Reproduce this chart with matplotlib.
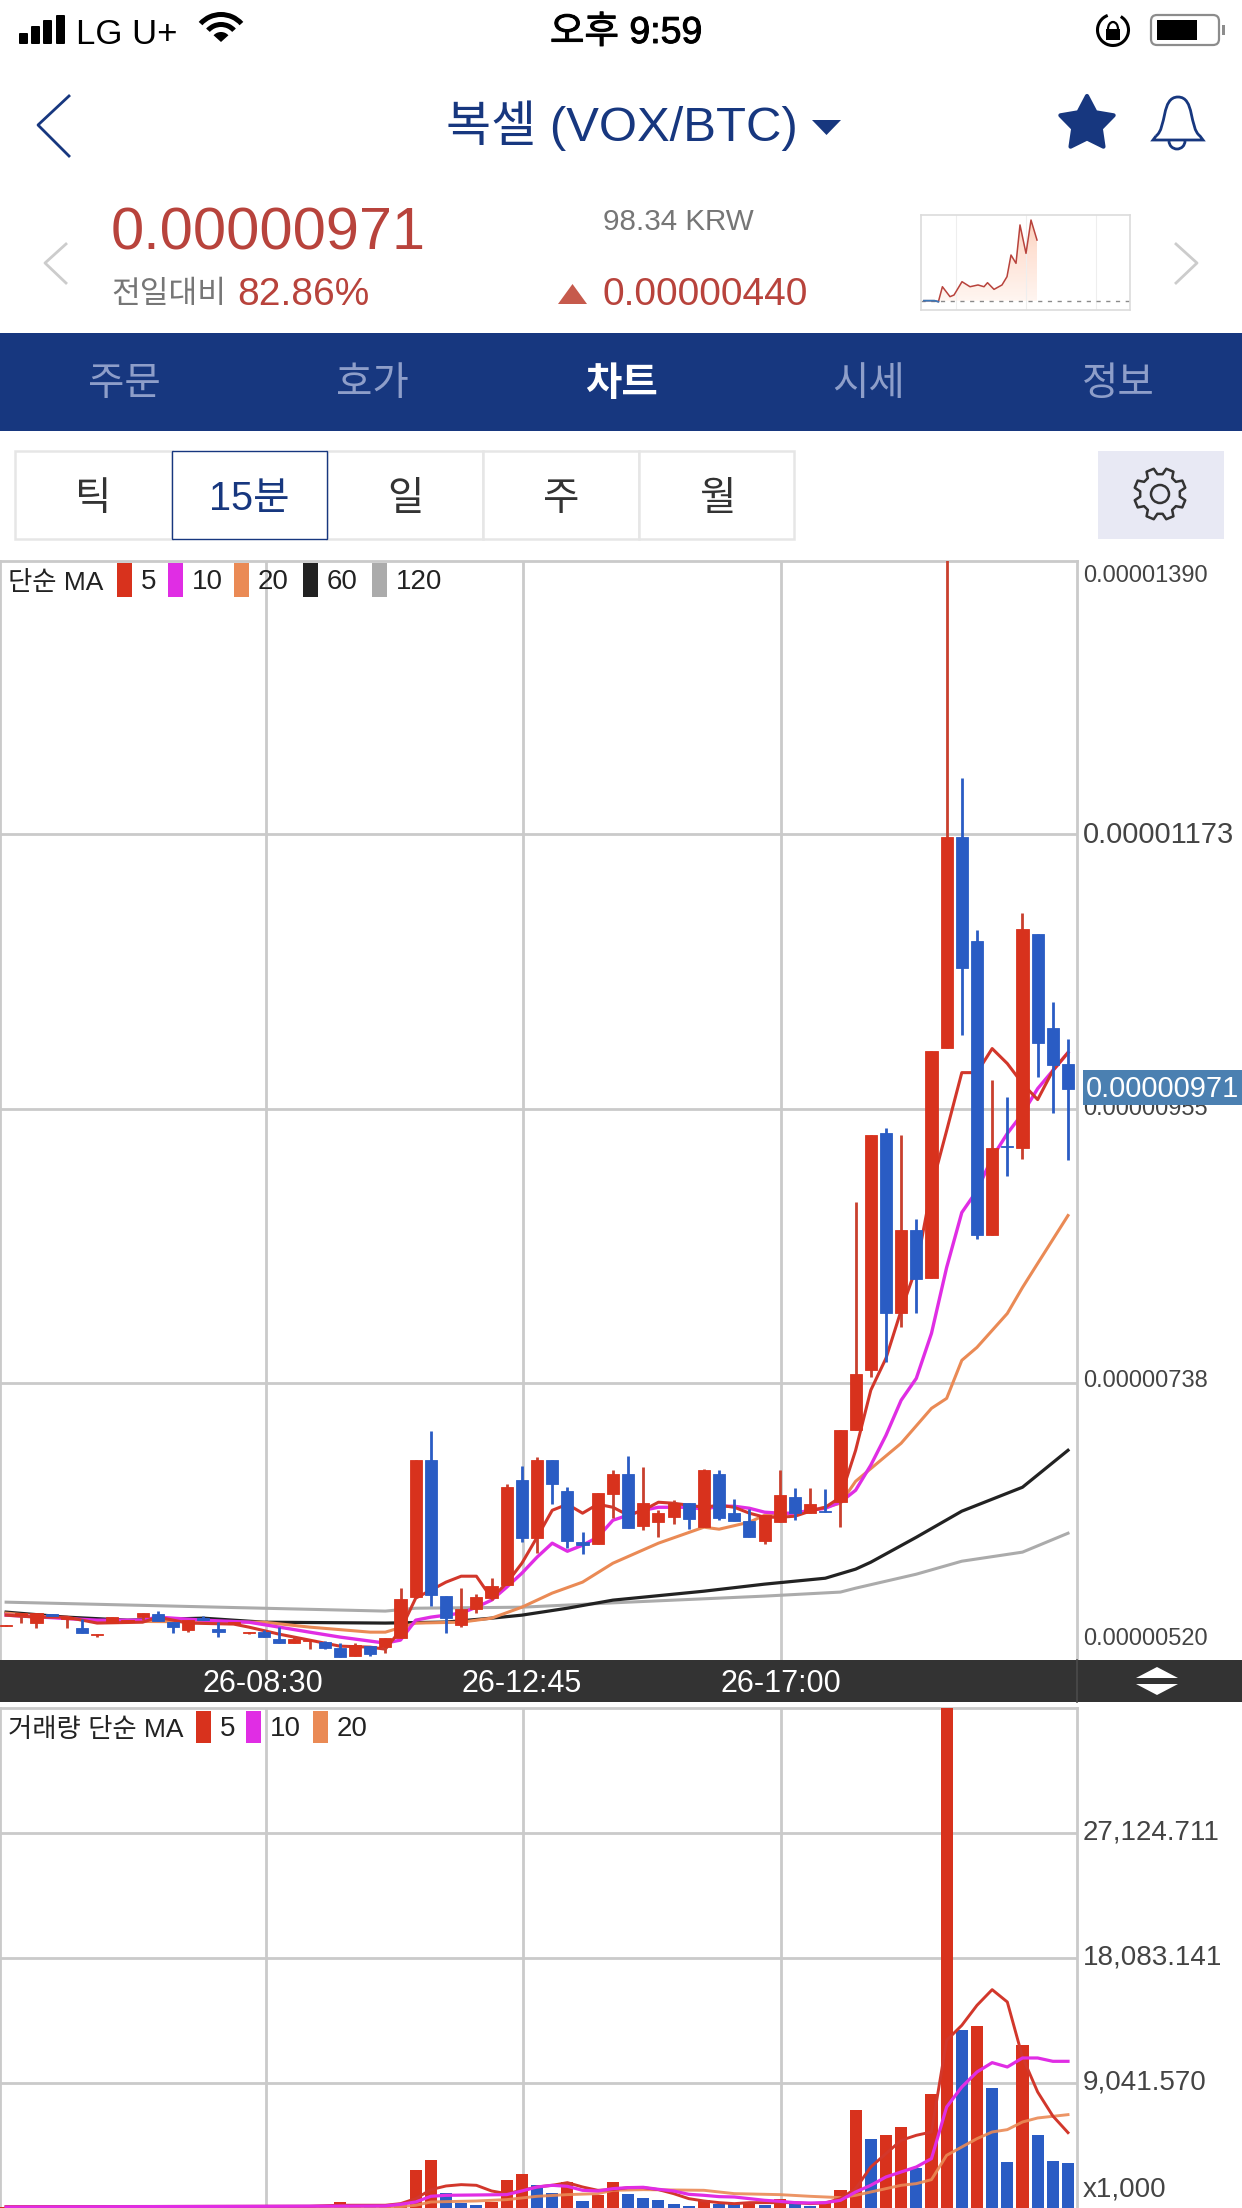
import numpy as np
import matplotlib
matplotlib.use('Agg')
import matplotlib.pyplot as plt
import matplotlib.patheffects as pe
from matplotlib.patches import Rectangle, Polygon, Wedge, Circle, Arc, FancyBboxPatch, PathPatch
from matplotlib.path import Path
from matplotlib.transforms import blended_transform_factory

plt.rcParams['font.family'] = ['Liberation Sans', 'Noto Sans CJK KR', 'DejaVu Sans']

W, H = 1242, 2208

# candles, price in satoshi (1e-8 BTC), one per 15 minutes
candle_open = [545.2, 553.5, 547.2, 554.3, 550.3, 543.2, 538.0, 547.2, 547.9, 551.9,
               554.3, 547.9, 541.6, 551.1, 542.4, 546.4, 539.2, 540.0, 534.5, 531.3,
               532.9, 532.1, 527.3, 521.0, 528.9, 528.1, 535.3, 567.8, 676.4, 568.6,
               545.6, 558.2, 567.0, 577.3, 660.5, 614.6, 676.4, 651.8, 611.4, 609.8,
               649.4, 665.3, 624.1, 627.3, 631.2, 642.3, 623.3, 665.3, 634.4, 628.0,
               612.2, 627.3, 647.0, 634.4, 636.0, 643.1, 700.2, 747.8, 935.7, 792.9,
               858.8, 820.7, 1003.4, 1171.1, 1088.7, 854.8, 925.4, 923.8, 1094.2, 1019.7,
               991.2]
candle_close = [545.6, 555.1, 555.1, 552.7, 551.9, 539.2, 538.8, 551.9, 549.5, 555.1,
                548.7, 544.0, 549.5, 549.5, 540.0, 547.9, 540.0, 536.1, 531.3, 534.5,
                533.7, 527.3, 520.2, 529.7, 522.6, 535.3, 566.2, 676.4, 569.4, 551.1,
                558.2, 567.8, 576.5, 655.0, 614.6, 676.4, 657.4, 612.2, 609.0, 650.2,
                665.3, 622.5, 642.3, 634.4, 642.3, 629.6, 668.5, 630.4, 628.0, 615.4,
                632.8, 648.6, 634.4, 641.5, 635.2, 700.2, 744.6, 934.9, 792.9, 858.8,
                819.9, 1001.5, 1171.1, 1067.3, 854.8, 923.8, 924.6, 1098.2, 1007.8, 990.4,
                971.0]
candle_high = [545.6, 555.1, 555.1, 554.3, 551.9, 550.3, 538.8, 551.9, 549.5, 555.1,
               556.7, 547.9, 549.5, 552.7, 547.9, 547.9, 540.0, 541.6, 544.0, 536.1,
               533.7, 532.9, 531.3, 531.3, 528.9, 535.3, 574.9, 676.4, 699.4, 568.6,
               574.9, 570.2, 582.9, 657.4, 671.6, 678.8, 676.4, 655.0, 619.3, 650.2,
               668.5, 679.6, 670.8, 636.8, 644.7, 642.3, 669.3, 668.5, 645.5, 637.6,
               632.8, 668.5, 654.2, 654.2, 653.4, 700.2, 881.0, 934.9, 940.4, 934.9,
               867.5, 1001.5, 1400.0, 1217.9, 1097.4, 978.5, 965.0, 1110.9, 1094.2, 1040.4,
               1011.0]
candle_low = [545.2, 547.2, 543.2, 552.7, 543.2, 539.2, 536.1, 547.2, 547.9, 549.5,
              548.7, 539.2, 540.0, 549.5, 536.1, 546.4, 538.4, 536.1, 531.3, 531.3,
              526.5, 526.5, 520.2, 521.0, 521.0, 523.4, 535.3, 567.8, 560.6, 539.2,
              544.0, 555.1, 565.4, 577.3, 611.4, 602.6, 641.5, 606.8, 601.8, 609.8,
              630.4, 622.5, 620.9, 615.4, 625.7, 621.7, 623.3, 628.8, 628.0, 615.4,
              609.8, 627.3, 628.8, 634.4, 635.2, 623.3, 700.2, 742.2, 754.1, 781.8,
              792.9, 820.7, 1003.4, 1014.1, 851.6, 854.8, 901.6, 915.8, 980.9, 952.3,
              915.0]

# moving averages, read at the candle index in *_idx
ma5_idx = [0, 2, 4, 6, 9, 10, 12, 15, 16, 18, 20, 22, 24] + list(range(25, 71))
ma5 = [553.5, 551.9, 551.9, 547.2, 547.9, 551.9, 547.2, 546.4, 544.0, 538.4, 533.7, 528.9, 528.1,
       526.5, 541.6, 567.0, 573.3, 579.7, 584.4, 584.4, 567.0, 578.9, 594.7, 615.3, 636.7, 641.5,
       634.4, 641.5, 639.1, 632.8, 636.7, 643.1, 642.3, 640.7, 639.1, 640.7, 639.1, 634.4, 631.2,
       631.2, 632.0, 636.0, 639.1, 647.0, 684.3, 732.0, 757.3, 795.3, 829.4, 892.8, 938.0, 984.0,
       984.0, 1003.1, 991.2, 975.3, 962.6, 985.6, 999.9]
ma10_idx = [0, 6, 9, 10, 13, 16, 18, 20, 22, 24] + list(range(25, 71))
ma10 = [553.5, 549.5, 549.5, 551.9, 549.5, 547.9, 544.0, 540.0, 536.1, 532.9,
        531.3, 533.7, 549.5, 551.9, 553.5, 555.1, 559.8, 565.4, 575.7, 586.8, 599.5, 610.6, 604.2,
        609.0, 615.3, 628.8, 632.8, 636.7, 639.1, 639.1, 639.1, 637.6, 639.9, 639.9, 638.3, 635.2,
        634.4, 634.4, 636.7, 638.3, 643.1, 652.6, 672.5, 696.2, 724.0, 741.4, 777.1, 829.4, 873.0,
        890.4, 916.6, 935.7, 951.5, 971.3, 985.6, 999.9]
ma20_idx = [0, 6, 17, 20, 24, 25, 27, 30, 32, 34, 36, 38, 40, 43, 46, 47, 49, 50, 52, 54, 55,
            56, 59, 61, 62, 63, 64, 66, 67, 68, 70]
ma20 = [555.1, 548.7, 547.9, 544.0, 540.0, 540.0, 547.2, 547.9, 551.1, 559.8, 571.0, 579.7, 594.7,
        610.6, 623.3, 621.7, 627.3, 632.8, 634.4, 639.1, 642.3, 659.7, 689.9, 717.6, 725.5, 755.7,
        766.0, 792.9, 813.5, 832.6, 870.6]
ma60_idx = [0, 4, 8, 13, 17, 25, 29, 32, 34, 37, 40, 46, 50, 54, 56, 57, 60, 63, 67, 70]
ma60 = [555.9, 551.9, 549.5, 551.1, 547.9, 547.2, 548.0, 551.1, 553.5, 559.0, 565.4, 572.5, 578.1,
        582.8, 590.0, 595.5, 615.3, 636.0, 655.0, 684.3]
ma120_idx = [0, 25, 27, 34, 41, 50, 55, 56, 60, 63, 67, 70]
ma120 = [563.8, 556.7, 559.0, 559.8, 563.8, 568.6, 571.8, 574.9, 586.0, 596.3, 603.5, 618.5]

price_ticks = [1390, 1173, 955, 738, 520]
current_price = 971

# volume, x1000 units on the axis
volume = [60, 70, 90, 50, 60, 70, 40, 80, 50, 60, 90, 60, 70, 50, 60, 40, 50, 70, 80, 70,
          140, 150, 434, 110, 70, 150, 390, 2727, 3450, 1085, 362, 195, 434, 2054, 2438, 1693, 1114,
          1881, 485, 919, 1881, 1041, 752, 557, 268, 123, 557, 318, 268, 434, 195, 680, 268, 123,
          434, 1280, 7067, 4969, 5309, 5859, 2922, 8224, 38000, 12853, 13193, 8658, 3327, 11768,
          5258, 3378, 3255]
volume_side = list('rrrbrbrrrrbbrbbrrbbrrrrrbr' 'rrrbbbrrrbbrbr' 'rbbbbbrbbrbrbbrrrbrrbrrbrbbrbbb')

vma5_idx = [0, 20, 22] + list(range(25, 71))
vma5 = [100, 130, 200, 200, 315, 677, 1328, 1593, 1690, 1642, 1232, 1039, 1280, 1521, 1642, 1834,
        1521, 1280, 1328, 1473, 1473, 1328, 1039, 677, 508, 388, 315, 388, 388, 388, 388, 315, 363,
        677, 1400, 2967, 3932, 4896, 5258, 5499, 12129, 13214, 14661, 15794, 14902, 10924, 8392,
        6656, 5451]
vma10_idx = [0, 25, 26, 27, 28, 29, 33] + list(range(34, 71))
vma10 = [70, 150, 267, 436, 846, 918, 967, 1232, 1521, 1642, 1569, 1280, 1232, 1400, 1473, 1497,
         1352, 1232, 991, 918, 822, 797, 677, 556, 484, 388, 363, 388, 556, 1159, 1642, 2244, 2606,
         2967, 3570, 7307, 8754, 9839, 10514, 10200, 10851, 10851, 10610, 10610]
vma20_idx = [0, 26, 27, 28, 31, 33, 35, 37, 39, 40, 42, 46, 48, 51, 53, 55, 56, 57, 59, 60, 61,
             62, 63, 64, 65, 66, 67, 68, 69, 70]
vma20 = [74, 100, 195, 436, 508, 605, 846, 967, 1039, 1280, 1328, 1280, 1039, 967, 846, 749, 918,
         1159, 1642, 1762, 2051, 3811, 4414, 5017, 5499, 5668, 6222, 6512, 6632, 6753]
volume_ticks = [27124.711, 18083.141, 9041.570]

# small sparkline in the header
mini_t = [3, 13.5, 17.4, 21.4, 29, 33, 41, 49, 57, 63, 66.5, 73, 81, 86, 90, 95, 99, 105, 110, 116]
mini_price = [531, 531, 523, 642, 563, 576, 682, 642, 656, 642, 674, 621, 656, 722, 894, 828, 1133, 907, 1172, 1013]
mini_prev_close = 531

tab_labels = ['주문', '호가', '차트', '시세', '정보']
period_labels = ['틱', '15분', '일', '주', '월']
time_labels = ['26-08:30', '26-12:45', '26-17:00']
time_idx = [17.1, 34.1, 51.1]

RED = '#d8321d'
BLUE = '#2a5cc4'
WICK_RED = '#c9402e'
LINE_RED = '#d2372b'
MAGENTA = '#e02de4'
ORANGE = '#ea8a55'
BLACK = '#222222'
GRAY = '#ababab'
GRID = '#cacaca'
NAVY = '#17377f'
PRICE_RED = '#b8433c'
TEXT_GRAY = '#767676'
LABEL = '#444444'


def px_rect(x0, y0, x1, y1):
    return [x0 / W, 1 - y1 / H, (x1 - x0) / W, (y1 - y0) / H]


def style_chart(ax):
    ax.set_xlim((0 - 6.1) / 15.17, (1077 - 6.1) / 15.17)
    ax.set_xticks(time_idx)
    ax.set_xticklabels([])
    ax.tick_params(length=0, labelleft=False, labelbottom=False)
    ax.grid(True, color=GRID, linewidth=2.0)
    ax.set_axisbelow(True)
    for side in ['left', 'right', 'top']:
        ax.spines[side].set_color(GRID)
        ax.spines[side].set_linewidth(2.0)
    ax.spines['bottom'].set_visible(False)


fig = plt.figure(figsize=(W / 100, H / 100), dpi=100, facecolor='white')

# chrome layer in pixel coordinates
ui = fig.add_axes([0, 0, 1, 1], zorder=5)
ui.set_xlim(0, W)
ui.set_ylim(H, 0)
ui.axis('off')
ui.patch.set_alpha(0)

# status bar
for bx, top in zip([19, 31, 43, 56], [33, 26, 20, 15]):
    ui.add_patch(FancyBboxPatch((bx + 1, top + 1), 7, 42 - top, boxstyle='round,pad=1', fc='black', ec='none'))
ui.text(76, 34, 'LG U+', fontsize=25, color='black', va='center')
for r, wd in [(30, 5), (20, 5)]:
    ui.add_patch(Wedge((221, 42), r, 222, 318, width=wd, fc='black', ec='none'))
ui.add_patch(Wedge((221, 42), 10, 222, 318, fc='black', ec='none'))
ui.text(626, 33, '오후 9:59', fontsize=27, color='black', ha='center', va='center',
        path_effects=[pe.withStroke(linewidth=0.7, foreground='black')])
ui.add_patch(Arc((1113, 30), 31, 31, theta1=-60, theta2=250, color='black', lw=2.2))
ui.add_patch(Rectangle((1106, 29), 14, 11, fc='black', ec='none'))
ui.add_patch(Arc((1113, 29), 10, 14, theta1=180, theta2=360, color='black', lw=1.6))
ui.add_patch(FancyBboxPatch((1153, 17), 64, 26, boxstyle='round,pad=2,rounding_size=6', fc='white', ec='#8c8c8c', lw=1.6))
ui.add_patch(Rectangle((1157, 20), 40, 20, fc='black', ec='none'))
ui.add_patch(Rectangle((1222, 25), 3, 10, fc='#8c8c8c', ec='none'))

# title row
ui.plot([69, 38, 69], [96, 125, 156], color=NAVY, lw=2.0)
ui.text(446, 126, '복셀 (VOX/BTC)', fontsize=35.3, color=NAVY, va='center', ha='left')
ui.add_patch(Polygon([(812, 120), (841, 120), (826.5, 135)], fc=NAVY, ec='none'))
star_ang = np.linspace(-np.pi / 2, 1.5 * np.pi, 10, endpoint=False)
star_rad = np.where(np.arange(10) % 2 == 0, 28, 14.5)
ui.add_patch(Polygon(np.c_[1087 + star_rad * np.cos(star_ang), 124 + star_rad * np.sin(star_ang)],
                     fc=NAVY, ec=NAVY, lw=3, joinstyle='round'))
bell = Path([(1156, 136), (1167, 128), (1161, 97), (1178, 97), (1195, 97), (1189, 128), (1200, 136), (1203, 140), (1153, 140), (1156, 136)],
            [Path.MOVETO, Path.CURVE4, Path.CURVE4, Path.CURVE4, Path.CURVE4, Path.CURVE4, Path.CURVE4, Path.LINETO, Path.LINETO, Path.LINETO])
ui.add_patch(PathPatch(bell, fc='none', ec=NAVY, lw=2.0))
ui.add_patch(Arc((1177, 141), 16, 16, theta1=0, theta2=180, color=NAVY, lw=2.0))

# price header
ui.text(111, 234, f'{current_price * 1e-8:.8f}', fontsize=42.8, color=PRICE_RED, va='center')
ui.text(603, 222, '98.34 KRW', fontsize=21.3, color=TEXT_GRAY, va='center')
ui.text(111, 295, '전일대비', fontsize=22.5, color=TEXT_GRAY, va='center')
ui.text(237, 295, '82.86%', fontsize=28, color=PRICE_RED, va='center')
ui.text(603, 295, '0.00000440', fontsize=28, color=PRICE_RED, va='center')
ui.add_patch(Polygon([(558, 304), (587, 304), (572.5, 284)], fc='#c65a4c', ec='none'))
ui.plot([66, 45, 66], [244, 263, 283], color='#cccccc', lw=2.0)
ui.plot([1176, 1197, 1176], [244, 263, 283], color='#cccccc', lw=2.0)

# sparkline
mini = fig.add_axes(px_rect(921, 215, 1130, 310), zorder=6)
mini.set_xlim(0, 209)
mini.set_ylim(457, 1212)
mini.set_xticks([35, 105, 175])
mini.set_yticks([])
mini.tick_params(length=0, labelbottom=False)
mini.grid(True, axis='x', color='#eeeeee', lw=0.8)
for s in mini.spines.values():
    s.set_color('#dcdcdc')
    s.set_linewidth(1.2)
grad = mini.imshow(np.linspace(0.2, 0.0, 64).reshape(-1, 1), extent=[0, 209, 531, 1212], origin='upper',
                   aspect='auto', cmap='Reds', vmin=0, vmax=1, zorder=1)
fill_poly = Polygon(list(zip(mini_t, mini_price)) + [(mini_t[-1], mini_prev_close), (mini_t[0], mini_prev_close)],
                    transform=mini.transData, fc='none', ec='none')
mini.add_patch(fill_poly)
grad.set_clip_path(fill_poly)
mini.axhline(mini_prev_close, color='#8a8a8a', lw=1, ls=(0, (3, 4)), zorder=2)
mini.plot(mini_t, mini_price, color=PRICE_RED, lw=1.1, zorder=3)
mini.plot(mini_t[:3], mini_price[:3], color='#3a78b8', lw=1.3, zorder=4)
mini.set_xlim(0, 209)
mini.set_ylim(457, 1212)

# tab bar
ui.add_patch(Rectangle((0, 333), W, 98, fc=NAVY, ec='none'))
for k, (tx, lab) in enumerate(zip([124, 372, 621, 869, 1118], tab_labels)):
    on = k == 2
    ui.text(tx, 384, lab, fontsize=28.5, ha='center', va='center', color='white' if on else '#8e9ec9',
            fontweight='bold' if on else 'normal')

# period buttons
edges = [15, 172, 327, 483, 639, 794]
for k, lab in enumerate(period_labels):
    if k != 1:
        ui.add_patch(Rectangle((edges[k], 451), edges[k + 1] - edges[k], 88, fc='white', ec='#e6e6e6', lw=1.8))
ui.add_patch(Rectangle((edges[1], 451), edges[2] - edges[1], 88, fc='white', ec=NAVY, lw=1.0, zorder=3))
for k, (tx, lab) in enumerate(zip([93, 249, 405, 561, 717], period_labels)):
    ui.text(tx, 499, lab, fontsize=28.5, ha='center', va='center', color=NAVY if k == 1 else '#333333', zorder=4)
ui.add_patch(Rectangle((1098, 451), 126, 88, fc='#e8e9f4', ec='none'))
ang = np.linspace(0, 2 * np.pi, 8, endpoint=False) + np.pi / 8
gear_pts = []
for a in ang:
    for da, rr in [(-0.26, 20), (-0.15, 26), (0.15, 26), (0.26, 20)]:
        gear_pts.append((1160 + rr * np.cos(a + da), 494 + rr * np.sin(a + da)))
ui.add_patch(Polygon(gear_pts, fc='none', ec='#333333', lw=1.8, joinstyle='round'))
ui.add_patch(Circle((1160, 494), 9, fc='none', ec='#333333', lw=1.8))

# price chart
ax = fig.add_axes(px_rect(0, 561, 1077, 1660), zorder=2)
style_chart(ax)
ax.set_ylim(517.9, 1390)
ax.set_yticks(price_ticks[1:4])
x = np.arange(len(candle_open))
ax.plot(ma120_idx, ma120, color=GRAY, lw=2.2, zorder=3)
ax.plot(ma60_idx, ma60, color=BLACK, lw=2.3, zorder=3)
ax.plot(ma20_idx, ma20, color=ORANGE, lw=2.2, zorder=3)
ax.plot(ma10_idx, ma10, color=MAGENTA, lw=2.4, zorder=3)
ax.plot(ma5_idx, ma5, color=LINE_RED, lw=2.2, zorder=3)
opens = np.array(candle_open)
closes = np.array(candle_close)
up = closes >= opens
ax.vlines(x[up], np.array(candle_low)[up], np.array(candle_high)[up], color=WICK_RED, lw=2.0, zorder=4)
ax.vlines(x[~up], np.array(candle_low)[~up], np.array(candle_high)[~up], color=BLUE, lw=2.0, zorder=4)
ax.bar(x[up], closes[up] - opens[up], bottom=opens[up], width=0.8, color=RED, edgecolor=RED, lw=0.6, zorder=5)
ax.bar(x[~up], opens[~up] - closes[~up], bottom=closes[~up], width=0.8, color=BLUE, edgecolor=BLUE, lw=0.6, zorder=5)

# price axis labels sit right of the plot
tr = blended_transform_factory(ui.transData, ax.transData)
label_sizes = {1390: 17, 1173: 21, 955: 17, 738: 17, 520: 17}
label_shift = {1390: -15, 1173: -1, 955: 0, 738: 1.5, 520: 18}
for v in price_ticks:
    ax.text(1083, v + label_shift[v] * 0.793, f'{v * 1e-8:.8f}', transform=tr, fontsize=label_sizes[v],
            color=LABEL, va='center', clip_on=False)
ui.add_patch(Rectangle((1083, 1070), 159, 35, fc='#4b80b1', ec='none', zorder=7))
ui.text(1086, 1089, f'{current_price * 1e-8:.8f}', fontsize=21, color='white', va='center', zorder=8)

# legend rows
ui.text(8, 583, '단순 MA', fontsize=19, color='#222222', va='center')
for sx, col, lab in zip([117, 168, 234, 303, 372], [RED, MAGENTA, ORANGE, BLACK, GRAY], ['5', '10', '20', '60', '120']):
    ui.add_patch(Rectangle((sx, 563), 15, 34, fc=col, ec='none'))
    ui.text(sx + 24, 582, lab, fontsize=20, color='#222222', va='center')
ui.text(8, 1730, '거래량 단순 MA', fontsize=19, color='#222222', va='center')
for sx, col, lab in zip([196, 246, 313], [RED, MAGENTA, ORANGE], ['5', '10', '20']):
    ui.add_patch(Rectangle((sx, 1711), 15, 32, fc=col, ec='none'))
    ui.text(sx + 24, 1729, lab, fontsize=20, color='#222222', va='center')

# time strip
ui.add_patch(Rectangle((0, 1660), W, 42, fc='#333333', ec='none'))
for xp, lab in zip([263, 522, 781], time_labels):
    ui.text(xp, 1684, lab, fontsize=22, color='white', ha='center', va='center')
ui.plot([1077, 1077], [1660, 1702], color='#4a4a4a', lw=1.2)
ui.add_patch(Polygon([(1136, 1678), (1178, 1678), (1157, 1667)], fc='white', ec='none'))
ui.add_patch(Polygon([(1136, 1684), (1178, 1684), (1157, 1695)], fc='white', ec='none'))

# volume chart
vx = fig.add_axes(px_rect(0, 1708, 1077, 2208), zorder=2)
style_chart(vx)
vx.set_ylim(0, 36166)
vx.set_yticks(volume_ticks)
cols = [RED if s == 'r' else BLUE for s in volume_side]
vx.bar(np.arange(len(volume)), volume, width=0.8, color=cols, zorder=3)
vx.plot(vma20_idx, vma20, color=ORANGE, lw=2.1, zorder=4, alpha=0.9)
vx.plot(vma5_idx, vma5, color=LINE_RED, lw=2.1, zorder=4)
vx.plot(vma10_idx, vma10, color=MAGENTA, lw=2.3, zorder=5)
tr2 = blended_transform_factory(ui.transData, vx.transData)
for v in volume_ticks:
    vx.text(1083, v, f'{v:,.3f}', transform=tr2, fontsize=20, color=LABEL, va='center', clip_on=False)
ui.text(1083, 2190, 'x1,000', fontsize=20, color=LABEL, va='center')

fig.savefig('out.png', dpi=100)
